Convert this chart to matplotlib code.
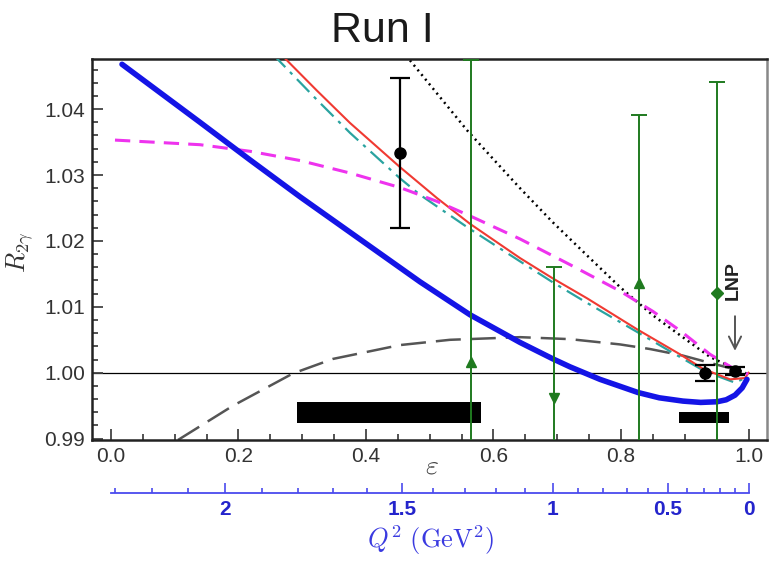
import numpy as np
import matplotlib
matplotlib.use("Agg")
import matplotlib.pyplot as plt

plt.rcParams['font.family'] = ['Liberation Sans', 'DejaVu Sans']
plt.rcParams['mathtext.fontset'] = 'cm'

# ---- curves (epsilon, R_2gamma)
blue_eps = [0.0173, 0.1396, 0.218, 0.2965, 0.4847, 0.5631, 0.6416, 0.6933, 0.72, 0.767, 0.8267, 0.86,
            0.8973, 0.925, 0.9506, 0.965, 0.9788, 0.99, 0.9976]
blue_R = [1.0468, 1.0380, 1.0323, 1.0267, 1.0138, 1.0088, 1.0046, 1.0021, 1.0009, 0.9990, 0.9970, 0.9962,
          0.9957, 0.9955, 0.9956, 0.9959, 0.9966, 0.9977, 0.9990]

red_eps = [0.2698, 0.3231, 0.3749, 0.4533, 0.5114, 0.5631, 0.6416, 0.6933, 0.7467, 0.8251, 0.8925, 0.9286, 0.9710, 0.9945, 1.0]
red_R = [1.0480, 1.0428, 1.0379, 1.0312, 1.0265, 1.0226, 1.0174, 1.0143, 1.0113, 1.0066, 1.0028, 1.0006, 0.9990, 0.9992, 1.0000]

teal_eps = [0.2541, 0.3231, 0.3749, 0.4533, 0.4847, 0.5631, 0.6416, 0.6933, 0.7467, 0.8251, 0.8816, 0.9318, 0.9788, 0.9992]
teal_R = [1.0483, 1.0414, 1.0364, 1.0295, 1.0270, 1.0218, 1.0169, 1.0137, 1.0106, 1.0062, 1.0030, 1.0002, 0.9985, 0.9994]

mag_eps = [0.0063, 0.1396, 0.218, 0.2965, 0.3749, 0.4533, 0.5114, 0.5631, 0.6416, 0.72, 0.7984, 0.8502, 0.8925, 0.9396, 0.9788, 0.9992]
mag_R = [1.0353, 1.0346, 1.0336, 1.0322, 1.0303, 1.0281, 1.0260, 1.0238, 1.0203, 1.0164, 1.0124, 1.0093, 1.0064, 1.0028, 1.0005, 0.9998]

dot_eps = [0.469, 0.5584, 0.6055, 0.6416, 0.6933, 0.7467, 0.7984, 0.8502, 0.8925, 0.9396, 0.9788, 0.9992]
dot_R = [1.0474, 1.0368, 1.0318, 1.0280, 1.0228, 1.0178, 1.0130, 1.0087, 1.0057, 1.0024, 1.0006, 0.9998]

gray_eps = [0.1051, 0.1914, 0.2855, 0.3482, 0.4533, 0.5318, 0.6416, 0.72, 0.7984, 0.8455, 0.8973, 0.9396, 0.9788, 0.9992]
gray_R = [0.9898, 0.9950, 0.9999, 1.0021, 1.0042, 1.0050, 1.0054, 1.0051, 1.0043, 1.0036, 1.0026, 1.0015, 1.0005, 0.9999]

# ---- data points
blk_eps = [0.4533, 0.9318, 0.9788]
blk_R = [1.0333, 1.0000, 1.0002]
blk_err = [0.0114, 0.0012, 0.0006]

grn_eps = [0.5647, 0.6949, 0.8282, 0.9506]
grn_R = [1.0017, 0.9962, 1.0136, 1.0121]
grn_err = [0.0457, 0.0199, 0.0255, 0.0320]
grn_mk = ['^', 'v', '^', 'D']

# systematic bands
sys_lo = [0.2918, 0.8910]
sys_hi = [0.5804, 0.9694]
sys_bot = [0.9924, 0.9924]
sys_top = [0.9955, 0.9941]

# Q^2 scale: values and where they sit in epsilon
q2_vals = [2.3, 2.2, 2.1, 2.0, 1.9, 1.8, 1.7, 1.6, 1.5, 1.4, 1.3, 1.2, 1.1, 1.0,
           0.9, 0.8, 0.7, 0.6, 0.5, 0.4, 0.3, 0.2, 0.1, 0.0]
q2_eps = [0.0063, 0.0643, 0.1208, 0.1788, 0.2369, 0.2933, 0.3482, 0.4016, 0.4565, 0.5051,
          0.5553, 0.6039, 0.6494, 0.6933, 0.7325, 0.7718, 0.8094, 0.8424, 0.8737, 0.9035,
          0.9302, 0.9553, 0.9788, 1.0]
q2_major = [2.0, 1.5, 1.0, 0.5, 0.0]
q2_major_lbl = ['2', '1.5', '1', '0.5', '0']

fig = plt.figure(figsize=(7.69, 5.62), dpi=100)
ax = fig.add_axes([0.1196, 0.2171, 0.8778, 0.6779])

ax.axhline(1.0, color='black', lw=0.9, zorder=1)
ax.plot(gray_eps, gray_R, color='#555555', lw=1.8, dashes=(10, 4), zorder=2)
ax.plot(dot_eps, dot_R, color='black', lw=1.8, ls=(0, (0.8, 1.6)), zorder=2)
ax.plot(teal_eps, teal_R, color='#2aa3a0', lw=1.6, dashes=(8, 3, 1.5, 3), zorder=3)
ax.plot(red_eps, red_R, color='#f03a32', lw=1.5, zorder=3)
ax.plot(mag_eps, mag_R, color='#ee33ee', lw=2.2, dashes=(5, 3), zorder=3)
ax.plot(blue_eps, blue_R, color='#1414e6', lw=4, solid_capstyle='round',
        solid_joinstyle='round', zorder=4)

for lo, hi, b, t in zip(sys_lo, sys_hi, sys_bot, sys_top):
    ax.bar(lo, t - b, width=hi - lo, bottom=b, align='edge', color='black', zorder=5)

for e, r, er, m in zip(grn_eps, grn_R, grn_err, grn_mk):
    ax.errorbar(e, r, yerr=er, fmt=m, color='#1f7a1f', ms=7 if m != 'D' else 6,
                lw=1.4, capsize=6, capthick=1.4, zorder=6)

ax.errorbar(blk_eps, blk_R, yerr=blk_err, fmt='o', color='black', ms=8,
            lw=1.6, capsize=7, capthick=1.6, zorder=7)

ax.text(0.9757, 1.0140, 'LNP', rotation=90, ha='center', va='center',
        fontsize=14, fontweight='bold', color='#222222')
ax.annotate('', xy=(0.9788, 1.0029), xytext=(0.9788, 1.0090),
            arrowprops=dict(arrowstyle='->', color='#555555', lw=1.4, mutation_scale=22))

ax.set_xlim(-0.0298, 1.029)
ax.set_ylim(0.9898, 1.0476)
ax.set_xticks([0.0, 0.2, 0.4, 0.6, 0.8, 1.0])
ax.set_xticklabels(['0.0', '0.2', '0.4', '0.6', '0.8', '1.0'])
ax.set_xticks(np.arange(0.05, 1.0, 0.05), minor=True)
ax.set_yticks([0.99, 1.00, 1.01, 1.02, 1.03, 1.04])
ax.set_yticklabels(['0.99', '1.00', '1.01', '1.02', '1.03', '1.04'])
ax.set_yticks(np.arange(0.992, 1.0476, 0.002), minor=True)
ax.tick_params(which='both', direction='in', top=False, right=False,
               labelsize=15, labelcolor='#333333', width=1.3, color='#444444')
ax.tick_params(which='major', length=8, pad=5)
ax.tick_params(which='minor', length=4.5)
for s in ['left', 'bottom', 'top']:
    ax.spines[s].set_linewidth(1.8)
    ax.spines[s].set_color('#222222')
ax.spines['right'].set_linewidth(1.8)
ax.spines['right'].set_color('#888888')

# Q^2 axis
ax2 = fig.add_axes([0.1196, 1 - 493 / 562, 0.8778, 0.0001])
ax2.set_xlim(ax.get_xlim())
for s in ['left', 'right', 'top']:
    ax2.spines[s].set_visible(False)
ax2.spines['bottom'].set_bounds(0.0, 1.0)
ax2.spines['bottom'].set_color('#4a4aee')
ax2.spines['bottom'].set_linewidth(1.3)
ax2.set_yticks([])
ax2.set_xticks([q2_eps[q2_vals.index(v)] for v in q2_major])
ax2.set_xticklabels(q2_major_lbl, fontweight='bold')
ax2.set_xticks([p for v, p in zip(q2_vals, q2_eps) if v not in q2_major], minor=True)
ax2.tick_params(which='both', direction='in', color='#4a4aee', width=1.2,
                labelsize=15, labelcolor='#2424cc')
ax2.tick_params(which='major', length=7, pad=5)
ax2.tick_params(which='minor', length=3.5)
ax2.patch.set_visible(False)

fig.text(382 / 769, 1 - 31 / 562, 'Run I', ha='center', va='center', fontsize=31, color='#1a1a1a')
fig.text(432 / 769, 1 - 466 / 562, r'$\varepsilon$', ha='center', va='center', fontsize=20, color='#444444')
fig.text(431 / 769, 1 - 540 / 562, r'$Q^2\ (\mathrm{GeV}^2)$', ha='center', va='center',
         fontsize=19, color='#3a3ae0')
fig.text(35 / 769, 1 - 252 / 562, r'$R_{2\gamma}$', rotation=90, ha='right', va='center',
         fontsize=19, color='#333333')

fig.savefig('out.png', dpi=100)
